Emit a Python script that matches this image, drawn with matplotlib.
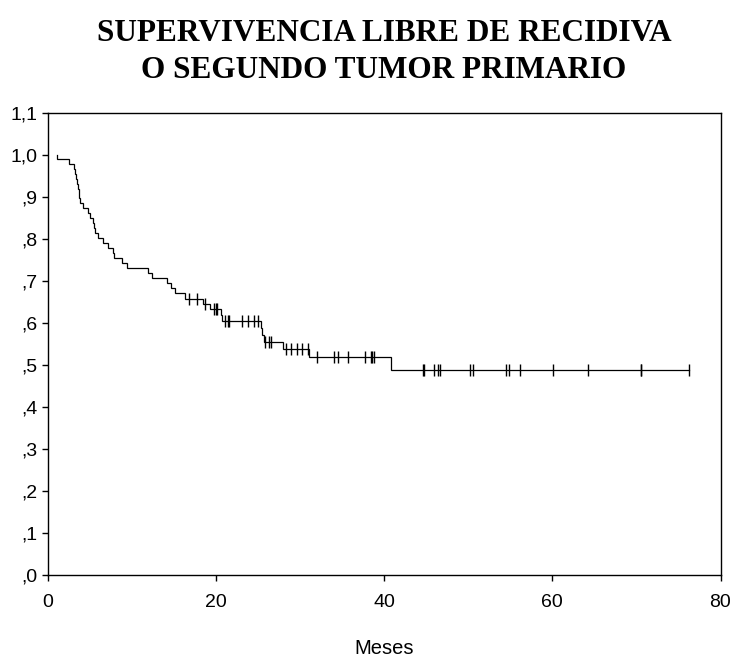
import numpy as np
import matplotlib
matplotlib.use("Agg")
import matplotlib.pyplot as plt
from matplotlib.ticker import FixedLocator, FixedFormatter

# Kaplan-Meier estimate: event times (months) and survival after each event
event_times = [1.1, 1.1, 2.6, 3.1, 3.3, 3.4, 3.5, 3.6, 3.7, 3.8, 3.9, 4.2, 4.8,
               5.1, 5.4, 5.5, 5.6, 6.0, 6.6, 7.2, 7.8, 7.9, 8.8, 9.4, 12.0,
               12.4, 14.2, 14.7, 15.1, 16.3, 18.5, 19.3, 20.6, 20.8, 25.4,
               25.5, 25.7, 28.0, 31.1, 40.8]
survival = [1.000, 0.990, 0.979, 0.967, 0.955, 0.943, 0.932, 0.920, 0.909,
            0.898, 0.886, 0.874, 0.862, 0.850, 0.838, 0.827, 0.815, 0.803,
            0.791, 0.779, 0.767, 0.755, 0.743, 0.731, 0.719, 0.707, 0.695,
            0.683, 0.671, 0.658, 0.646, 0.634, 0.619, 0.604, 0.588, 0.572,
            0.556, 0.538, 0.519, 0.488]

# Censored observations (months)
censor_times = [16.8, 17.8, 18.7, 19.8, 20.0, 20.2, 21.1, 21.4, 21.6, 23.1,
                23.8, 24.6, 25.0, 25.9, 26.3, 26.6, 28.3, 29.0, 29.6, 30.2,
                31.0, 32.0, 34.1, 34.5, 35.7, 37.7, 38.4, 38.6, 38.8, 44.6,
                44.8, 46.0, 46.4, 46.6, 50.2, 50.6, 54.5, 54.9, 56.2, 60.1,
                64.2, 70.5, 70.5, 76.3]
last_time = 76.3

y_ticks = [0.0, 0.1, 0.2, 0.3, 0.4, 0.5, 0.6, 0.7, 0.8, 0.9, 1.0, 1.1]
y_tick_labels = [",0", ",1", ",2", ",3", ",4", ",5", ",6", ",7", ",8", ",9",
                 "1,0", "1,1"]
x_ticks = [0, 20, 40, 60, 80]
x_tick_labels = ["0", "20", "40", "60", "80"]

W, H = 731, 658
fig = plt.figure(figsize=(W / 100, H / 100), dpi=100)
left, right, top, bottom = 47.5, 720.5, 113.3, 575.0
ax = fig.add_axes([left / W, 1 - bottom / H, (right - left) / W, (bottom - top) / H])

t = np.array(event_times + [last_time])
s = np.array(survival + [survival[-1]])
ax.step(t, s, where="post", color="black", lw=0.9, solid_joinstyle="miter")

et = np.array(event_times)
sv = np.array(survival)
idx = np.searchsorted(et, censor_times, side="right") - 1
ax.plot(censor_times, sv[idx], linestyle="none", marker="|", markersize=8,
        markeredgewidth=1.0, color="black")

ax.set_xlim(0, 80)
ax.set_ylim(0, 1.1)
ax.xaxis.set_major_locator(FixedLocator(x_ticks))
ax.xaxis.set_major_formatter(FixedFormatter(x_tick_labels))
ax.yaxis.set_major_locator(FixedLocator(y_ticks))
ax.yaxis.set_major_formatter(FixedFormatter(y_tick_labels))

sans = ["Liberation Sans", "DejaVu Sans"]
for lab in ax.get_xticklabels() + ax.get_yticklabels():
    lab.set_fontfamily(sans)
    lab.set_fontsize(14)
ax.tick_params(axis="both", direction="out", length=4.5, width=1.0,
               colors="black")
ax.tick_params(axis="x", pad=9)
ax.tick_params(axis="y", pad=3)
for sp in ax.spines.values():
    sp.set_linewidth(1.0)
    sp.set_color("black")

ax.set_xlabel("Meses", fontfamily=sans, fontsize=14.5, labelpad=20)

fig.text((left + right) / 2 / W, 1 - 52 / H,
         "SUPERVIVENCIA LIBRE DE RECIDIVA\nO SEGUNDO TUMOR PRIMARIO",
         ha="center", va="center", fontfamily=["Liberation Serif", "DejaVu Serif"],
         fontweight="bold", fontsize=22.5, linespacing=1.4)

fig.savefig("out.png", dpi=100)
